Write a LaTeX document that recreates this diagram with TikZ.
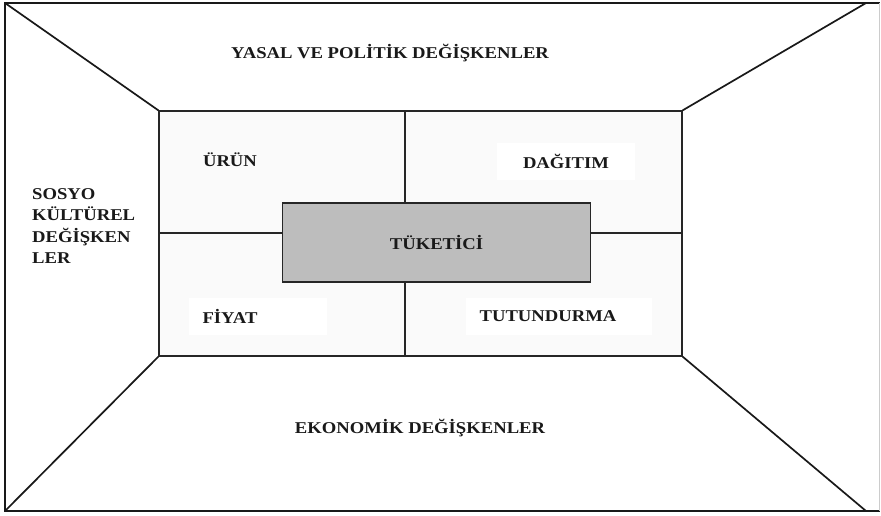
\documentclass[tikz,border=0pt]{standalone}
\usepackage{fontspec}
\setmainfont{Liberation Serif}[FakeStretch=1.13]
\begin{document}
\begin{tikzpicture}[x=1pt,y=-1pt,
  diag/.style={line width=1.7pt,black!90},
  divline/.style={line width=1.1pt,black!85},
  innerbox/.style={draw=black!85,line width=1.3pt,fill=black!2,minimum width=523pt,minimum height=245pt,inner sep=0pt},
  centerbox/.style={draw=black!85,line width=1.2pt,fill=black!26,minimum width=308pt,minimum height=79pt,inner sep=0pt},
  lbl/.style={font=\fontsize{16.5}{21.5}\selectfont\bfseries,text=black!90,inner sep=0pt},
  patch/.style={lbl,fill=white,minimum height=37pt}
]
\useasboundingbox (0,0) rectangle (881,515);
\fill[white] (0,0) rectangle (881,515);
% outer frame corners
\coordinate (otl) at (5,3);
\coordinate (otr) at (866,3);
\coordinate (obr) at (866,511);
\coordinate (obl) at (5,511);
\coordinate (ftr) at (880,3);
\coordinate (fbr) at (880,511);
\draw[line width=1.8pt,black!90] (ftr) -- (otl) -- (obl) -- (fbr);
\draw[line width=1pt,black!20] (879,3) -- (879,511);
% inner rectangle and centre box
\node[innerbox] (inner) at (420.5,233.5) {};
\node[centerbox] (tuk) at (436.5,242.5) {};
\coordinate (dv) at (405,0);
\coordinate (dh) at (0,233);
% diagonals
\draw[diag] (otl) -- (inner.north west);
\draw[diag] (otr) -- (inner.north east);
\draw[diag] (obr) -- (inner.south east);
\draw[diag] (obl) -- (inner.south west);
% dividers
\draw[divline] (inner.north -| dv) -- (tuk.north -| dv);
\draw[divline] (tuk.south -| dv) -- (inner.south -| dv);
\draw[divline] (inner.west |- dh) -- (tuk.west |- dh);
\draw[divline] (tuk.east |- dh) -- (inner.east |- dh);
% labels
\node[lbl] (tukl) at (tuk.center) {TÜKETİCİ};
\node[lbl] (urun) at (230,160) {ÜRÜN};
\node[patch,minimum width=138pt] (dagitim) at (566,161.5) {DAĞITIM};
\node[patch,minimum width=138pt] (fiyat) at (258,316.5) {\hspace*{-56pt}FİYAT};
\node[patch,minimum width=186pt] (tutun) at (559,316.5) {\hspace*{-22pt}TUTUNDURMA};
\node[lbl] (yasal) at (390,53) {YASAL VE POLİTİK DEĞİŞKENLER};
\node[lbl] (ekon) at (420,428) {EKONOMİK DEĞİŞKENLER};
\node[lbl,align=left,anchor=west] (sosyo) at (32,226) {SOSYO\\KÜLTÜREL\\DEĞİŞKEN\\LER};
\end{tikzpicture}
\end{document}
